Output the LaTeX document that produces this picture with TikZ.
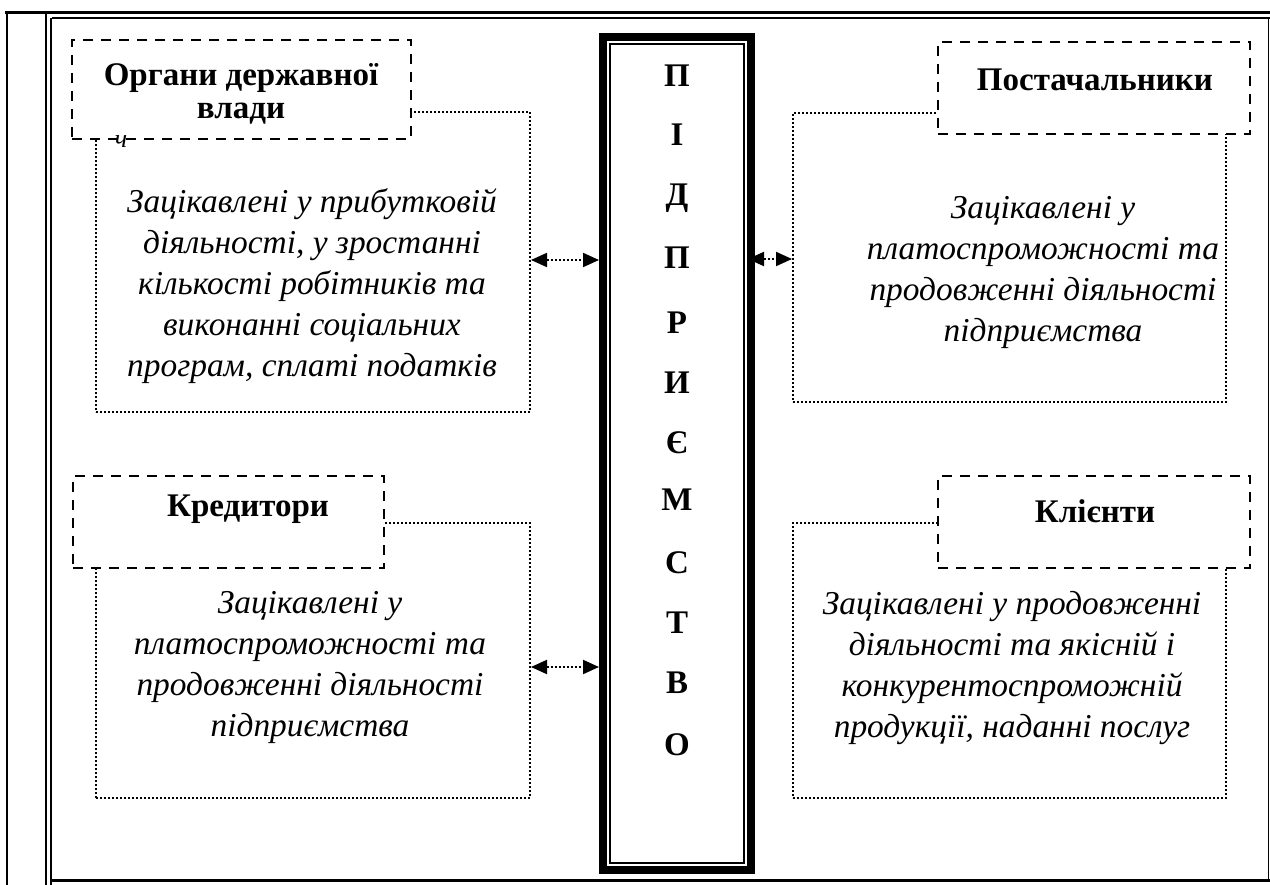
\documentclass[tikz,border=0pt]{standalone}
\usepackage{fontspec}
\setmainfont{Liberation Serif}
\usetikzlibrary{arrows.meta}
\begin{document}
\begin{tikzpicture}[x=1pt,y=-1pt,
  dbox/.style={draw, line width=2.6pt, dash pattern=on 10pt off 8pt, fill=white, inner sep=0pt},
  obox/.style={draw, line width=2pt, dash pattern=on 2pt off 2pt, inner sep=0pt},
  lbl/.style={font=\fontsize{33}{33}\selectfont\bfseries, align=center, inner sep=0pt},
  itx/.style={font=\fontsize{33.4}{41}\selectfont\itshape, align=center, inner sep=0pt},
  arr/.style={line width=2pt, dash pattern=on 2pt off 2pt,
    {Triangle[length=16pt,width=14pt]}-{Triangle[length=16pt,width=14pt]}},
]
\useasboundingbox (0,0) rectangle (1270,885);
% outer frame
\draw[line width=3.6pt] (5,12.5) -- (1270,12.5);
\draw[line width=1.4pt] (52,18) -- (1270,18);
\draw[line width=1.6pt] (7,11) -- (7,885);
\draw[line width=1.8pt] (46,14) -- (46,885);
\draw[line width=1.8pt] (51,18) -- (51,885);
\draw[line width=2.2pt] (50,880.5) -- (1270,880.5);
\draw[line width=1.4pt] (1268.5,18) -- (1268.5,881);

% dotted boxes
\node[obox, minimum width=434pt, minimum height=300pt] (orgD) at (313,262) {};
\node[obox, minimum width=434pt, minimum height=275pt] (kredD) at (313,660.5) {};
\node[obox, minimum width=433pt, minimum height=289pt] (postD) at (1009.5,257.5) {};
\node[obox, minimum width=433pt, minimum height=275pt] (klD) at (1009.5,660.5) {};

% dashed boxes
\node[dbox, minimum width=339pt, minimum height=99pt] (org) at (241.5,89.5) {};
\node[dbox, minimum width=311pt, minimum height=92pt] (kred) at (228.5,522) {};
\node[dbox, minimum width=312pt, minimum height=92pt] (post) at (1094,88) {};
\node[dbox, minimum width=312pt, minimum height=92pt] (kl) at (1094,522) {};

% labels
\node[lbl] (orgL) at (241,94) {Органи державної\\влади};
\node[lbl] (kredL) at (248,509) {Кредитори};
\node[lbl] (postL) at (1095,80) {Постачальники};
\node[lbl] (klL) at (1095,511) {Клієнти};
\node[font=\fontsize{26}{26}\selectfont\itshape, inner sep=0pt] (ch) at (121,142) {ч};

% italic texts
\node[itx] (orgT) at (312,286) {Зацікавлені у прибутковій\\діяльності, у зростанні\\кількості робітників та\\виконанні соціальних\\програм, сплаті податків};
\node[itx] (kredT) at (310,667) {Зацікавлені у\\платоспроможності та\\продовженні діяльності\\підприємства};
\node[itx] (postT) at (1043,272) {Зацікавлені у\\платоспроможності та\\продовженні діяльності\\підприємства};
\node[itx] (klT) at (1012,668) {Зацікавлені у продовженні\\діяльності та якісній і\\конкурентоспроможній\\продукції, наданні послуг};

% central box
\node[draw, line width=8pt, minimum width=148pt, minimum height=833pt, inner sep=0pt] (pid) at (677,453.5) {};
\draw[line width=1.8pt] ([xshift=10.7pt,yshift=-10.7pt]pid.north west) rectangle ([xshift=-10.7pt,yshift=10.7pt]pid.south east);
\foreach \l/\y [count=\i] in {П/76,І/135,Д/195,П/258,Р/323,И/383,Є/443,М/500,С/563,Т/623,В/683,О/745}
  \node[lbl, anchor=base] (c\i) at (677,\y+10.5) {\l};

% arrows
\coordinate (pr) at ([xshift=-7pt]pid.east);
\draw[arr] (orgD.east |- 0,260) -- (pid.west |- 0,260);
\draw[arr] (pr |- 0,259) -- (postD.west |- 0,259);
\draw[arr] (kredD.east |- 0,667) -- (pid.west |- 0,667);
\end{tikzpicture}
\end{document}
